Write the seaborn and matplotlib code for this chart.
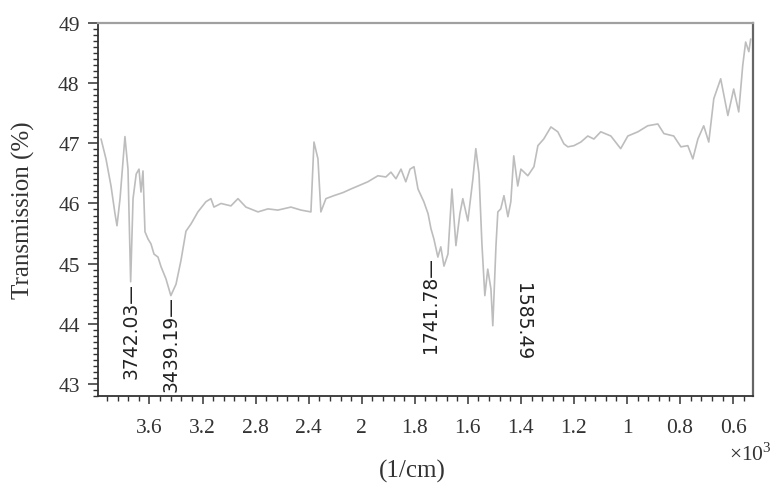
import numpy as np
import pandas as pd
import matplotlib
matplotlib.use("Agg")
import matplotlib.pyplot as plt
from matplotlib.ticker import FixedLocator, MultipleLocator
import seaborn as sns

# FTIR spectrum: wavenumber (x10^3 1/cm) and transmission (%)
wavenumber = [3.965, 3.928, 3.890, 3.860, 3.845, 3.822, 3.785, 3.762, 3.742, 3.724,
              3.700, 3.679, 3.664, 3.649, 3.634, 3.611, 3.589, 3.566, 3.536, 3.513,
              3.476, 3.439, 3.400, 3.363, 3.325, 3.287, 3.235, 3.174, 3.137, 3.114,
              3.061, 2.986, 2.933, 2.873, 2.782, 2.707, 2.632, 2.534, 2.458, 2.383,
              2.360, 2.330, 2.308, 2.270, 2.210, 2.142, 2.082, 2.007, 1.977, 1.939,
              1.909, 1.890, 1.871, 1.852, 1.834, 1.818, 1.803, 1.788, 1.766, 1.750,
              1.739, 1.728, 1.713, 1.702, 1.690, 1.675, 1.660, 1.645, 1.630, 1.619,
              1.600, 1.581, 1.570, 1.558, 1.547, 1.536, 1.525, 1.513, 1.506, 1.494,
              1.487, 1.476, 1.464, 1.449, 1.438, 1.427, 1.412, 1.400, 1.374, 1.351,
              1.336, 1.314, 1.287, 1.261, 1.238, 1.223, 1.200, 1.174, 1.148, 1.125,
              1.099, 1.061, 1.024, 0.997, 0.959, 0.922, 0.884, 0.861, 0.824, 0.797,
              0.771, 0.752, 0.733, 0.711, 0.692, 0.673, 0.647, 0.620, 0.598, 0.579,
              0.564, 0.553, 0.541, 0.534]
transmission = [47.07, 46.74, 46.29, 45.83, 45.63, 46.08, 47.11, 46.57, 44.70, 46.08,
                46.49, 46.57, 46.19, 46.54, 45.53, 45.41, 45.33, 45.16, 45.11, 44.95,
                44.75, 44.47, 44.66, 45.05, 45.54, 45.66, 45.86, 46.03, 46.08, 45.94,
                46.00, 45.96, 46.08, 45.94, 45.86, 45.91, 45.89, 45.94, 45.89, 45.86,
                47.02, 46.74, 45.86, 46.08, 46.13, 46.18, 46.24, 46.31, 46.36, 46.46,
                46.44, 46.52, 46.41, 46.57, 46.36, 46.57, 46.61, 46.24, 46.03, 45.83,
                45.58, 45.41, 45.11, 45.28, 44.96, 45.16, 46.24, 45.30, 45.83, 46.08,
                45.71, 46.41, 46.91, 46.49, 45.33, 44.47, 44.91, 44.58, 43.97, 45.30,
                45.86, 45.91, 46.13, 45.78, 46.03, 46.79, 46.29, 46.57, 46.46, 46.61,
                46.96, 47.07, 47.27, 47.19, 46.99, 46.94, 46.96, 47.02, 47.12, 47.07,
                47.19, 47.12, 46.91, 47.12, 47.19, 47.29, 47.32, 47.16, 47.12, 46.94,
                46.96, 46.74, 47.07, 47.29, 47.02, 47.74, 48.07, 47.46, 47.90, 47.52,
                48.29, 48.68, 48.52, 48.73]

# Peak annotations: text, x, y of the text's top end, rotation
peak_labels = ["3742.03\u2014", "3439.19\u2014", "1741.78\u2014", "1585.49"]
peak_x = [3.742, 3.439, 1.742, 1.393]
peak_y = [44.70, 44.47, 45.13, 44.70]
peak_rot = [90, 90, 90, -90]

x_ticks = [3.6, 3.2, 2.8, 2.4, 2.0, 1.8, 1.6, 1.4, 1.2, 1.0, 0.8, 0.6]
x_tick_labels = ["3.6", "3.2", "2.8", "2.4", "2", "1.8", "1.6", "1.4", "1.2", "1", "0.8", "0.6"]
y_ticks = [43, 44, 45, 46, 47, 48, 49]

df = pd.DataFrame({"wavenumber": wavenumber, "transmission": transmission})

sns.set_theme(style="ticks")
plt.rcParams["font.family"] = ["Liberation Serif", "DejaVu Serif"]
plt.rcParams["mathtext.fontset"] = "custom"
plt.rcParams["mathtext.rm"] = "Liberation Serif"

fig = plt.figure(figsize=(7.82, 4.85), dpi=100)
ax = fig.add_axes([0.125, 0.181, 0.838, 0.770])

# Split axis: 4000-2000 compressed, below 2000 expanded two-fold
def fwd(x):
    x = np.asarray(x, dtype=float)
    return np.where(x > 2.0, x + 2.0, 2.0 * x)

def inv(f):
    f = np.asarray(f, dtype=float)
    return np.where(f > 4.0, f - 2.0, f / 2.0)

ax.set_xscale("function", functions=(fwd, inv))

sns.lineplot(data=df, x="wavenumber", y="transmission", ax=ax, sort=False,
             estimator=None, color="#bdbdbd", linewidth=1.2)

ax.set_xlim(3.99, 0.525)
ax.set_ylim(42.8, 49.0)

ax.xaxis.set_major_locator(FixedLocator(x_ticks))
ax.set_xticklabels(x_tick_labels)
minor_hi = np.arange(2.0, 3.99, 0.08)
minor_lo = np.arange(2.0, 0.5, -0.04)
ax.xaxis.set_minor_locator(FixedLocator(np.concatenate([minor_hi, minor_lo])))
ax.yaxis.set_major_locator(FixedLocator(y_ticks))
ax.yaxis.set_minor_locator(MultipleLocator(0.1))

ax.tick_params(axis="both", which="major", direction="out", length=7, width=1.1,
               color="#333333", labelsize=15.5, labelcolor="#333333", pad=6)
ax.tick_params(axis="both", which="minor", direction="out", length=3.5, width=1.0,
               color="#333333")
ax.tick_params(axis="x", which="major", length=6, pad=10)

for side in ["left", "bottom"]:
    ax.spines[side].set_color("#333333")
    ax.spines[side].set_linewidth(1.3)
ax.spines["top"].set_color("#a0a0a0")
ax.spines["top"].set_linewidth(1.6)
ax.spines["right"].set_color("#666666")
ax.spines["right"].set_linewidth(1.6)

ax.set_ylabel("Transmission (%)", fontsize=18, color="#333333")
ax.set_xlabel("(1/cm)", fontsize=18, color="#333333")
ax.yaxis.set_label_coords(-0.095, 0.5)
ax.xaxis.set_label_coords(0.48, -0.168)

fig.text(0.932, 0.05, r"$\times10^{3}$", fontsize=15.5, color="#333333")

for label, px, py, rot in zip(peak_labels, peak_x, peak_y, peak_rot):
    ax.text(px, py, label, rotation=rot, ha="center", va="top",
            fontsize=13.5, family=["DejaVu Sans"], color="#222222")

fig.savefig("out.png", dpi=100)
